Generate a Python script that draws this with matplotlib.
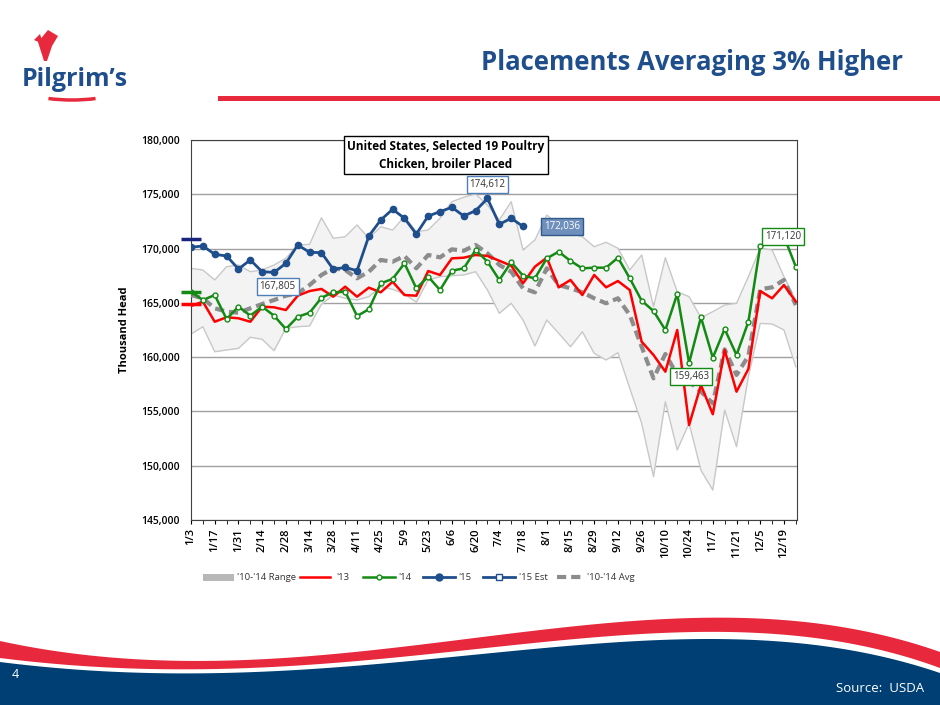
import numpy as np
import matplotlib.pyplot as plt
from matplotlib.patches import Rectangle, Arc, Polygon

weeks = ['1/3', '1/10', '1/17', '1/24', '1/31', '2/7', '2/14', '2/21', '2/28', '3/7', '3/14', '3/21',
         '3/28', '4/4', '4/11', '4/18', '4/25', '5/2', '5/9', '5/16', '5/23', '5/30', '6/6', '6/13',
         '6/20', '6/27', '7/4', '7/11', '7/18', '7/25', '8/1', '8/8', '8/15', '8/22', '8/29', '9/5',
         '9/12', '9/19', '9/26', '10/3', '10/10', '10/17', '10/24', '10/31', '11/7', '11/14', '11/21',
         '11/28', '12/5', '12/12', '12/19', '12/26']

# thousand head
range_hi = [168.18, 168.03, 167.11, 168.33, 168.49, 167.87, 168.03, 168.49, 169.10, 170.33, 170.39, 172.84,
            170.95, 171.09, 172.17, 170.95, 172.01, 171.71, 172.94, 171.55, 171.71, 172.79, 174.32, 174.72,
            175.03, 174.01, 172.63, 174.32, 169.87, 170.79, 173.09, 172.17, 171.41, 171.09, 170.17, 170.58,
            170.03, 168.03, 169.41, 164.65, 169.16, 166.03, 165.57, 163.63, 164.19, 164.80, 164.96, 167.41,
            170.03, 169.87, 167.41, 165.26]
range_lo = [162.13, 162.80, 160.50, 160.66, 160.81, 161.83, 161.64, 160.59, 162.66, 162.80, 162.87, 164.87,
            165.72, 165.42, 165.26, 165.57, 166.49, 166.25, 165.82, 165.05, 167.11, 167.41, 167.50, 167.57,
            167.87, 166.18, 164.04, 164.96, 163.42, 161.03, 163.42, 162.20, 160.96, 162.34, 160.35, 159.74,
            160.41, 157.13, 153.91, 148.99, 155.90, 151.45, 153.91, 149.58, 147.76, 155.13, 151.75, 158.20,
            163.11, 163.05, 162.50, 159.12]
avg_10_14 = [165.72, 165.42, 164.50, 164.19, 164.09, 164.50, 164.89, 165.26, 165.66, 165.88, 166.64, 167.57,
             168.18, 168.03, 167.26, 167.87, 168.95, 168.79, 169.32, 168.18, 169.41, 169.19, 169.93, 169.80,
             170.33, 169.56, 168.49, 167.87, 166.34, 165.97, 168.18, 166.64, 166.34, 165.97, 165.42, 164.96,
             165.42, 163.88, 160.96, 158.05, 160.29, 158.36, 157.74, 156.82, 155.75, 160.72, 158.36, 160.11,
             166.25, 166.43, 167.11, 164.80]
y2013 = [164.71, 165.11, 163.26, 163.67, 163.58, 163.26, 164.65, 164.59, 164.34, 165.66, 166.09, 166.28,
         165.57, 166.49, 165.57, 166.40, 165.97, 166.95, 165.72, 165.66, 167.93, 167.57, 169.10, 169.16,
         169.41, 169.32, 168.88, 168.42, 166.80, 168.33, 169.16, 166.43, 167.11, 165.72, 167.57, 166.43,
         167.01, 166.18, 161.42, 160.20, 158.66, 162.50, 153.75, 157.43, 154.74, 160.66, 156.82, 158.91,
         166.09, 165.42, 166.64, 165.11]
y2014 = [166.03, 165.26, 165.72, 163.51, 164.65, 163.82, 164.65, 163.82, 162.59, 163.72, 164.09, 165.47,
         165.97, 166.03, 163.79, 164.41, 166.80, 167.20, 168.64, 166.34, 167.41, 166.18, 167.96, 168.18,
         169.87, 168.79, 167.11, 168.74, 167.50, 167.26, 169.10, 169.71, 168.86, 168.18, 168.24, 168.24,
         169.16, 167.26, 165.20, 164.25, 162.50, 165.82, 159.463, 163.67, 159.95, 162.59, 160.20, 163.26,
         170.24, 170.58, 171.12, 168.33]
y2015 = [170.12, 170.24, 169.47, 169.32, 168.12, 168.95, 167.87, 167.805, 168.64, 170.33, 169.66, 169.62,
         168.09, 168.27, 167.96, 171.16, 172.63, 173.62, 172.79, 171.34, 173.00, 173.40, 173.80, 173.00,
         173.49, 174.612, 172.24, 172.79, 172.036]
est_2015 = 170.85
est_2014 = 166.0
est_2013 = 164.9

W, H = 940, 705
fig = plt.figure(figsize=(9.4, 7.05), dpi=100)
plt.rcParams['font.family'] = ['Open Sans', 'DejaVu Sans']

# slide decorations in pixel coordinates
bg = fig.add_axes([0, 0, 1, 1])
bg.set_xlim(0, W)
bg.set_ylim(H, 0)
bg.axis('off')

navy = '#1f4e8c'
red = '#e8283c'
bg.text(903, 63, 'Placements Averaging 3% Higher', ha='right', va='center', fontsize=18.5,
        fontweight='bold', color=navy)
bg.add_patch(Rectangle((218, 96), W - 218, 5, color=red, lw=0))

# logo
bg.text(75, 80, "Pilgrim\u2019s", ha='center', va='center', fontsize=18, fontweight='bold', color=navy)
bg.add_patch(Arc((72, 82), 118, 36, theta1=35, theta2=145, color=red, lw=2.5))
bg.add_patch(Polygon([(44, 61), (38, 42), (48, 30), (58, 36), (52, 46), (47, 61)], color=red, lw=0))
bg.add_patch(Polygon([(43, 44), (34, 40), (40, 34)], color=red, lw=0))

# bottom wave
xs = np.linspace(0, W, 200)
def curve(pts):
    px, py = zip(*pts)
    return np.polyval(np.polyfit(px, py, 4), xs)
red_top = curve([(0, 641), (150, 660), (400, 647), (700, 618), (830, 625), (940, 652)])
red_bot = curve([(0, 658), (150, 669), (400, 657), (700, 632), (830, 640), (940, 668)])
blue_top = curve([(0, 662), (150, 673), (400, 662), (700, 639), (830, 647), (940, 673)])
bg.fill_between(xs, red_top, red_bot, color=red, lw=0)
bg.fill_between(xs, blue_top, H, color='#003f73', lw=0)
bg.text(12, 674, '4', color='white', fontsize=9, va='center')
bg.text(924, 689, 'Source:  USDA', color='white', fontsize=9.5, ha='right', va='center')

# chart
ax = fig.add_axes([191 / W, 1 - 520 / H, 606 / W, 380 / H])
x = np.arange(len(weeks))
gray_line = '#c8c8c8'
ax.fill_between(x, range_lo, range_hi, color='#f3f3f3', lw=0, zorder=1)
ax.plot(x, range_hi, color=gray_line, lw=1, zorder=2)
ax.plot(x, range_lo, color=gray_line, lw=1, zorder=2)
ax.plot(x, avg_10_14, color='#8c8c8c', lw=3, ls=(0, (2.2, 1.2)), zorder=3)
ax.plot(x, y2013, color='#ff0000', lw=1.8, zorder=4)
ax.plot(x, y2014, color='#138a13', lw=1.8, marker='o', ms=3.5, mfc='white', mec='#138a13', mew=1, zorder=5)
ax.plot(x[:len(y2015)], y2015, color='#1f4e8c', lw=2, marker='o', ms=4.5, zorder=6)
ax.plot([0], [est_2015], marker='_', ms=14, mew=2.5, color='#1a237e', zorder=7, clip_on=False)
ax.plot([0], [est_2014], marker='_', ms=14, mew=2.5, color='#138a13', zorder=7, clip_on=False)
ax.plot([0], [est_2013], marker='_', ms=14, mew=2.5, color='#ff0000', zorder=7, clip_on=False)

ax.set_xlim(0, 51.1)
ax.set_ylim(145, 180)
ax.set_yticks(np.arange(145, 181, 5))
ax.set_yticklabels([f'{v * 1000:,.0f}' for v in np.arange(145, 181, 5)], fontsize=7.5, fontweight='semibold')
ax.set_xticks(x[::2])
ax.set_xticklabels(weeks[::2], rotation=90, fontsize=8, fontweight='semibold')
ax.set_xticks(x, minor=True)
ax.tick_params(axis='x', which='both', direction='out', length=3, pad=3)
ax.tick_params(axis='y', length=0, pad=8)
ax.grid(axis='y', color='#a0a0a0', lw=1)
ax.set_axisbelow(True)
for s in ax.spines.values():
    s.set_color('#404040')
ax.set_ylabel('Thousand Head', fontsize=8, fontweight='bold', labelpad=8)

ax.text(21.5, 178.6, 'United States, Selected 19 Poultry\nChicken, broiler Placed', ha='center', va='center',
        fontsize=8.5, fontweight='bold', linespacing=1.5,
        bbox=dict(boxstyle='square,pad=0.3', fc='white', ec='black', lw=1))

def label(xi, yv, txt, ec, fc='white', tc='#333333'):
    ax.text(xi, yv, txt, ha='center', va='center', fontsize=7, color=tc, zorder=8,
            bbox=dict(boxstyle='square,pad=0.3', fc=fc, ec=ec, lw=1))
label(25, 175.9, '174,612', '#4f7fb8')
label(31.3, 172.0, '172,036', '#2f5a8a', fc='#6f8fbc', tc='white')
label(7.3, 166.5, '167,805', '#4f7fb8')
label(42.2, 158.2, '159,463', '#138a13')
label(49.9, 171.1, '171,120', '#138a13')

# legend
ly = 577
bg.add_patch(Rectangle((203, ly - 3.5), 31, 7, color='#b8b8b8', lw=0))
bg.plot([300, 330], [ly, ly], color='#ff0000', lw=1.8)
bg.plot([363, 395], [ly, ly], color='#138a13', lw=1.8)
bg.plot([379], [ly], marker='o', ms=3.5, mfc='white', mec='#138a13')
bg.plot([423, 455], [ly, ly], color='#1f4e8c', lw=2)
bg.plot([439], [ly], marker='o', ms=5, color='#1f4e8c')
bg.plot([483, 515], [ly, ly], color='#1f4e8c', lw=2)
bg.plot([499], [ly], marker='s', ms=4, mfc='white', mec='#1f4e8c')
bg.plot([557, 583], [ly, ly], color='#8c8c8c', lw=3, ls=(0, (2.2, 1.2)))
legend_text = [(237, "'10-'14 Range"), (336, "'13"), (398, "'14"), (458, "'15"), (519, "'15 Est"), (587, "'10-'14 Avg")]
for lx, txt in legend_text:
    bg.text(lx, ly, txt, fontsize=6.8, va='center', color='#333333')

fig.savefig('out.png', dpi=100)
